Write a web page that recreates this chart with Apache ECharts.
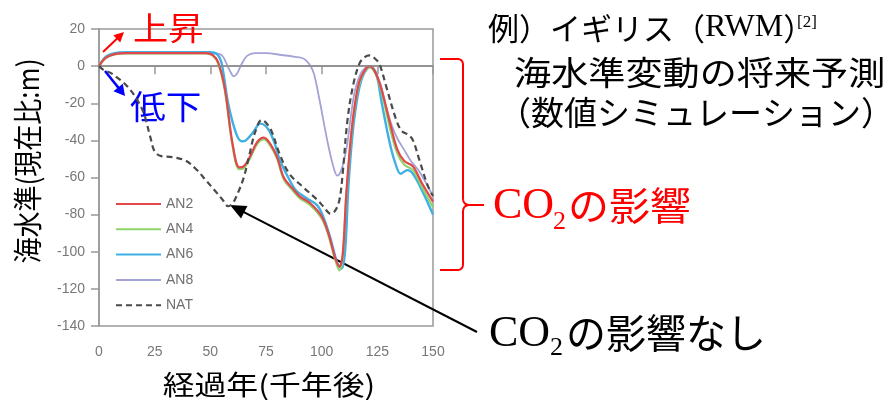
<!DOCTYPE html>
<html>
<head>
<meta charset="utf-8">
<script src="https://cdn.jsdelivr.net/npm/echarts@6/dist/echarts.min.js"></script>
<style>
  html, body { margin: 0; padding: 0; background: #fff; }
  #chart { width: 889px; height: 400px; }
</style>
</head>
<body>
<div id="chart"></div>
<script>
// Sea-level projections (m relative to present) against elapsed time (thousand years)
const seriesNames = ['AN2', 'AN4', 'AN6', 'AN8', 'NAT'];

const an2 = [[0,0],[3,4.5],[7,6.5],[12,7],[30,7],[48,7],[51,6],[53.5,2],[56.5,-12],[60,-42],[63,-54.5],[65,-54],[67.7,-49],[71,-41],[74,-38.5],[77,-42],[80,-49],[83,-60],[87,-66],[90,-70],[95,-74],[100,-81],[103,-90],[106,-103],[108,-108],[109.5,-101],[111,-70],[113,-40],[115,-20],[117,-8],[119.5,-2],[121.5,0],[123.5,-2],[126,-9],[128.5,-20],[131,-32],[134,-45],[137,-51],[141,-54],[145,-63],[150,-73]];

const an4 = [[0,0],[3,4.3],[7,6.3],[12,6.8],[30,6.8],[48,6.8],[51,5.8],[53.5,1.5],[56.5,-13],[60,-43],[63,-55.5],[65,-55],[67.7,-50],[71,-42],[74,-39.5],[77,-43],[80,-50],[83,-61],[87,-67],[90,-71],[95,-75],[100,-82],[103,-91],[106,-104],[108,-110],[109.5,-102],[111,-71],[113,-41],[115,-21],[117,-9],[119.5,-2.5],[121.5,-0.5],[123.5,-2.5],[126,-10],[128.5,-22],[131,-35],[134,-47],[137,-53],[141,-56],[145,-65],[150,-76]];

const an6 = [[0,0],[3,5],[7,7],[12,7.5],[30,7.5],[50,7.5],[53,6.5],[55,2],[58,-20],[61.5,-36],[64,-40.5],[66,-40],[69,-36],[72.5,-31],[76,-34],[79,-42],[81,-50],[85,-60],[88.5,-67],[93,-71],[98,-75],[101,-82],[104,-93],[107,-106],[109,-109],[110.5,-100],[112,-65],[114,-35],[116.5,-14],[119,-4],[122,-0.5],[124.5,-4],[127,-20],[130.5,-41],[133,-52],[135.5,-58],[138.5,-56],[141,-58],[145.5,-68],[150,-80]];

const an8 = [[0,0],[3,5],[7,6.5],[12,7],[30,7],[50,7],[55,6],[57,2],[59,-3],[60.5,-5.5],[62,-4],[64,1],[66.5,5.5],[70,7],[75,7],[82,6],[88,5],[92,4],[94.5,1],[96.5,-4],[99,-18],[102.5,-40],[105,-53],[107,-59],[108.5,-57],[110,-51],[111.5,-42],[113,-28],[115,-13],[118,-3],[121.5,0],[124,-3],[126.5,-10],[129,-22],[131.5,-32],[134,-39],[137,-45],[140,-51],[144,-57],[150,-70]];

const nat = [[0,0],[2,-2],[5,-3.5],[8,-6],[12,-10],[16,-16],[20,-25],[23,-38],[25,-46],[28,-48.5],[33,-49],[39,-51],[44,-56],[48,-61.5],[52,-67],[55.5,-72],[58,-75.5],[60,-74],[62.5,-68],[65,-60],[67.7,-47],[70,-36],[73,-29],[75,-30.5],[77.5,-35],[81,-47],[85.5,-58],[91.5,-65],[98,-72],[101,-76],[104,-79.5],[106,-78],[108,-72],[109.5,-57],[111.5,-30],[114,-11],[117,1.5],[119.5,5],[121.5,5.8],[124,4],[126,1],[129,-11],[133.5,-29],[136,-35],[139,-37],[141,-40],[144,-51],[147.5,-64],[150,-70]];

const xTicks = { min: 0, max: 150, step: 25 };
const yTicks = { min: -140, max: 20, step: 20 };

const CJK = '"Noto Sans CJK JP", sans-serif';
const SERIF = '"Liberation Serif", "Times New Roman", serif';
const SANS = '"Liberation Sans", Arial, sans-serif';

const chart = echarts.init(document.getElementById('chart'), null, { renderer: 'canvas' });

function lineSeries(name, data, color, width, dashed, z) {
  return {
    name: name,
    type: 'line',
    data: data,
    smooth: 0.35,
    symbol: 'none',
    z: z,
    lineStyle: { color: color, width: width, type: dashed ? [6, 4] : 'solid' },
    itemStyle: { color: color },
    emphasis: { disabled: true }
  };
}

function arrowHead(tip, from, len, half, color) {
  const dx = tip[0] - from[0], dy = tip[1] - from[1];
  const d = Math.sqrt(dx * dx + dy * dy);
  const ux = dx / d, uy = dy / d;
  const bx = tip[0] - ux * len, by = tip[1] - uy * len;
  return {
    type: 'polygon',
    shape: { points: [tip, [bx - uy * half, by + ux * half], [bx + uy * half, by - ux * half]] },
    style: { fill: color }
  };
}

function arrow(from, tip, len, half, color, width) {
  const dx = tip[0] - from[0], dy = tip[1] - from[1];
  const d = Math.sqrt(dx * dx + dy * dy);
  const ex = tip[0] - dx / d * len * 0.8, ey = tip[1] - dy / d * len * 0.8;
  return [
    { type: 'line', shape: { x1: from[0], y1: from[1], x2: ex, y2: ey }, style: { stroke: color, lineWidth: width } },
    arrowHead(tip, from, len, half, color)
  ];
}

// quadratic corner sampled into polyline points
function corner(p0, c, p1, out) {
  for (let i = 0; i <= 8; i++) {
    const t = i / 8, a = (1 - t) * (1 - t), b = 2 * (1 - t) * t, e = t * t;
    out.push([a * p0[0] + b * c[0] + e * p1[0], a * p0[1] + b * c[1] + e * p1[1]]);
  }
  return out;
}

function bracket(color) {
  const upper = [[440, 59]];
  corner([457, 59], [463, 59], [463, 65], upper);
  corner([463, 198], [463, 205], [470, 205], upper);
  upper.push([484, 205]);
  const lower = [];
  corner([470, 205], [463, 205], [463, 212], lower);
  corner([463, 264], [463, 270], [457, 270], lower);
  lower.push([440, 270]);
  return [
    { type: 'polyline', shape: { points: upper }, style: { stroke: color, lineWidth: 2, fill: null } },
    { type: 'polyline', shape: { points: lower }, style: { stroke: color, lineWidth: 2, fill: null } }
  ];
}

function label(text, x, y, size, family, color, opts) {
  opts = opts || {};
  return {
    type: 'text',
    x: x, y: y,
    rotation: opts.rotation || 0,
    scaleX: opts.scaleX || 1,
    scaleY: opts.scaleY || 1,
    style: {
      text: text,
      fontSize: size,
      fontFamily: family,
      fill: color,
      align: opts.align || 'left',
      verticalAlign: opts.verticalAlign || 'middle'
    }
  };
}

const graphics = [].concat(
  // axis titles
  label('海水準(現在比:m)', 28, 161, 26, CJK, '#000', { rotation: Math.PI / 2, align: 'center', scaleY: 1.12 }),
  label('経過年(千年後)', 269, 385, 27, CJK, '#000', { align: 'center', scaleX: 1.18 }),
  // rise / fall hints
  label('上昇', 133, 28, 32, CJK, '#ff0000', { scaleX: 1.1 }),
  arrow([103, 52], [124, 32], 10, 5, '#ff0000', 2),
  label('低下', 130, 106, 33, CJK, '#0000ff', { scaleX: 1.08 }),
  arrow([105, 71], [125, 96], 11, 6, '#0000ff', 2.5),
  // heading on the right
  {
    type: 'text', x: 488, y: 28,
    style: {
      text: '{j|例）イギリス（}{r|RWM}{j|）}',
      verticalAlign: 'middle',
      fill: '#000',
      rich: {
        j: { fontSize: 31, fontFamily: CJK, fill: '#000' },
        r: { fontSize: 32, fontFamily: SERIF, fill: '#000' }
      }
    }
  },
  label('[2]', 797, 23, 17, SERIF, '#000'),
  label('海水準変動の将来予測', 514, 72, 33, CJK, '#000', { scaleX: 1.125 }),
  label('（数値シミュレーション）', 498, 112, 33, CJK, '#000'),
  // bracket grouping the CO2 runs
  bracket('#ff0000'),
  label('CO', 493, 206, 44, SERIF, '#ff0000'),
  label('2', 553, 222, 26, SERIF, '#ff0000'),
  label('の影響', 568, 205, 39, CJK, '#ff0000', { scaleX: 1.05 }),
  // pointer to the run without CO2
  arrow([477, 332], [230, 205], 16, 7, '#000', 2),
  label('CO', 489, 334, 44, SERIF, '#000'),
  label('2', 550, 348, 26, SERIF, '#000'),
  label('の影響なし', 566, 333, 40, CJK, '#000')
);

const option = {
  backgroundColor: '#fff',
  animation: false,
  grid: { left: 99, right: 456, top: 29, bottom: 74, show: true, borderColor: '#999', borderWidth: 1.5, containLabel: false },
  legend: {
    data: seriesNames,
    orient: 'vertical',
    left: 115, top: 197,
    padding: 0,
    itemWidth: 45, itemHeight: 14, itemGap: 11.3,
    itemStyle: { opacity: 0 },
    textStyle: { color: '#6f6f6f', fontSize: 14, fontFamily: SANS },
    selectedMode: false
  },
  xAxis: {
    type: 'value',
    min: xTicks.min, max: xTicks.max, interval: xTicks.step,
    axisLine: { show: true, lineStyle: { color: '#999', width: 1.5 } },
    axisTick: { show: true, inside: false, length: 8, lineStyle: { color: '#999', width: 1.5 } },
    axisLabel: { color: '#777', fontSize: 14, fontFamily: SANS, margin: 19 },
    splitLine: { show: false }
  },
  yAxis: {
    type: 'value',
    min: yTicks.min, max: yTicks.max, interval: yTicks.step,
    axisLine: { show: true, lineStyle: { color: '#999', width: 1.5 } },
    axisTick: { show: true, inside: false, length: 8, lineStyle: { color: '#999', width: 1.5 } },
    axisLabel: { color: '#777', fontSize: 14, fontFamily: SANS, margin: 14 },
    splitLine: { show: false }
  },
  series: [
    Object.assign(lineSeries('AN8', an8, '#a3a3d6', 1.8, false, 2), {
      markLine: {
        silent: true, symbol: 'none', label: { show: false },
        lineStyle: { color: '#888', width: 1.5, type: 'solid' },
        data: [{ yAxis: 0 }]
      }
    }),
    lineSeries('AN6', an6, '#3fb0e4', 2.4, false, 3),
    lineSeries('AN4', an4, '#8ed46a', 2.2, false, 3),
    lineSeries('AN2', an2, '#e2474c', 2.2, false, 4),
    lineSeries('NAT', nat, '#4a4a4a', 2.2, true, 5)
  ],
  graphic: graphics
};

// legend order follows seriesNames, series drawn back to front
chart.setOption(option);
</script>
</body>
</html>
